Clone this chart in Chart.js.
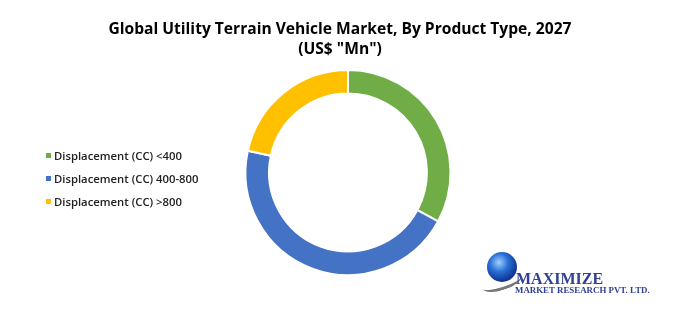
<!DOCTYPE html>
<html>
<head>
<meta charset="utf-8">
<script src="https://cdn.jsdelivr.net/npm/chart.js@4/dist/chart.umd.min.js"></script>
<style>
  html, body { margin: 0; padding: 0; background: #fff; }
  body { width: 687px; height: 322px; position: relative; overflow: hidden; }
  #wrap { position: absolute; left: 0; top: 0; width: 687px; height: 322px; }
  #title { position: absolute; left: 0; width: 687px; top: 18px; text-align: center;
    font-family: "Open Sans", sans-serif; font-weight: 700; font-size: 15.6px; line-height: 20px; color: #000; }
  #title div { margin-left: -7px; }
  #legend { position: absolute; left: 46px; top: 148px; font-family: "Open Sans", sans-serif;
    font-size: 11.3px; font-weight: 600; color: #222; }
  .li { position: relative; height: 23px; line-height: 15px; white-space: nowrap; }
  .sw { position: absolute; left: 0; top: 5px; width: 5px; height: 5px; }
  .tx { position: absolute; left: 8px; top: 0; }
  #logo { position: absolute; left: 484px; top: 250px; width: 190px; height: 50px; }
  #globe { position: absolute; left: 3px; top: 2px; width: 30px; height: 30px; border-radius: 50%;
    background: radial-gradient(circle at 40% 35%, #9fd0ff 0%, #2b6fd6 35%, #0b2f8a 75%, #061a55 100%); }
  #swoosh { position: absolute; left: -2px; top: 25px; width: 40px; height: 12px; border-radius: 50%;
    border-bottom: 3px solid #777; transform: rotate(-18deg); }
  #m1 { position: absolute; left: 32px; top: 20px; font-family: "Liberation Serif", serif; font-weight: 700;
    font-size: 16px; line-height: 18px; color: #2f3f96; }
  #m2 { position: absolute; left: 31px; top: 35px; font-family: "Liberation Serif", serif; font-weight: 700;
    font-size: 8.9px; line-height: 10px; color: #2f3f96; white-space: nowrap; }
</style>
</head>
<body>
<div id="wrap"><canvas id="c" width="687" height="322"></canvas></div>
<div id="title"><div>Global Utility Terrain Vehicle Market, By Product Type, 2027</div><div>(US$ "Mn")</div></div>
<div id="legend"></div>
<div id="logo"><div id="swoosh"></div><div id="globe"></div><div id="m1">MAXIMIZE</div><div id="m2">MARKET RESEARCH PVT. LTD.</div></div>
<script>
const categories = ["Displacement (CC) <400", "Displacement (CC) 400-800", "Displacement (CC) >800"];
const values = [32.9, 45.5, 21.6];
const colors = ["#70AD47", "#4472C4", "#FFC000"];

const lg = document.getElementById("legend");
categories.forEach((c, i) => {
  const d = document.createElement("div");
  d.className = "li";
  d.innerHTML = '<span class="sw" style="background:' + colors[i] + '"></span><span class="tx"></span>';
  d.querySelector(".tx").textContent = c;
  lg.appendChild(d);
});

new Chart(document.getElementById("c"), {
  type: "doughnut",
  data: {
    labels: categories,
    datasets: [{
      data: values,
      backgroundColor: colors,
      borderColor: "#ffffff",
      borderWidth: 2
    }]
  },
  options: {
    responsive: false,
    animation: false,
    cutout: "77%",
    layout: { padding: { left: 244, right: 235, top: 69, bottom: 46 } },
    plugins: { legend: { display: false }, tooltip: { enabled: false }, title: { display: false } }
  }
});
</script>
</body>
</html>
